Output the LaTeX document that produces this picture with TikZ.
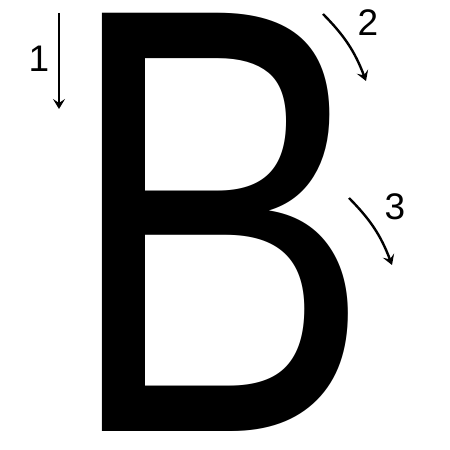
\documentclass[tikz,border=0pt]{standalone}
\usepackage{fontspec}
\setmainfont{Liberation Sans}
\usetikzlibrary{arrows.meta}
\tikzset{
    letter/.style={
    inner sep=0pt,anchor=base west,xscale=0.76,font=\fontsize{608}{620}\selectfont
    },
    num/.style={
    inner sep=0pt,font=\fontsize{37}{40}\selectfont
    },
    stroke/.style={
    draw=black,line width=2.4pt,-{Stealth[length=10pt,width=12pt,inset=4pt]}
    },
}
\begin{document}
\begin{tikzpicture}[x=1pt,y=1pt]
  \useasboundingbox (0,0) rectangle (450,450);
  \node[letter] (bee) at (64,18) {B};
  % stroke order
  \coordinate (s1) at (59,437);
  \coordinate (e1) at (59,341);
  \coordinate (s2) at (323,436);
  \coordinate (e2) at (366,369);
  \coordinate (s3) at (349,252);
  \coordinate (e3) at (392,185);
  \node[num] (n1) at (39,391) {1};
  \node[num] (n2) at (368,427) {2};
  \node[num] (n3) at (395,243) {3};
  \draw[stroke] (s1) -- (e1);
  \draw[stroke] (s2) to[bend left=12] (e2);
  \draw[stroke] (s3) to[bend left=12] (e3);
\end{tikzpicture}
\end{document}
